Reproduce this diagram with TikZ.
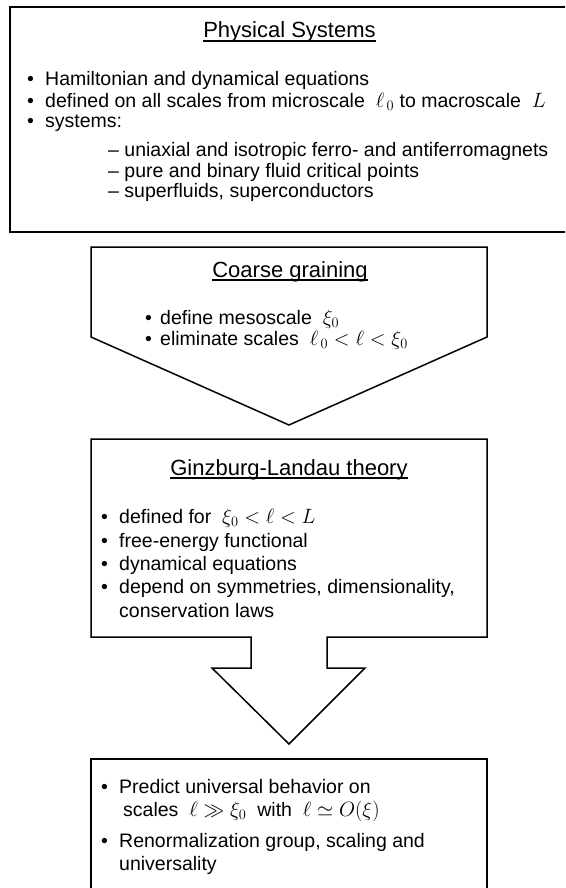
\documentclass[tikz,border=0pt]{standalone}
\usepackage[no-math]{fontspec}
\setmainfont{Liberation Sans}
\newcommand{\bul}[1][18pt]{\makebox[#1][l]{\textbullet}}
\newcommand{\mth}[1]{{\fontsize{22}{22}\selectfont$#1$}}
\tikzset{
  % outlines of the boxes and block arrows
  frame/.style={draw=black, line width=1.5pt, line join=miter},
  % box headings
  head/.style={anchor=base, inner sep=0pt, font=\fontsize{22}{26}\selectfont},
  % one line of body text
  txt/.style={anchor=base west, inner sep=0pt, font=\fontsize{19.5}{23}\selectfont},
  uline/.style={line width=1.2pt},
}
\begin{document}
\begin{tikzpicture}[x=1pt,y=-1pt]
    \useasboundingbox (0,0) rectangle (565,888);
    \clip (0,0) rectangle (565,888);

    % Physical systems
    \draw[frame, line width=2pt] (10,7) rectangle (580,232);
    \node[head] (phys) at (289.5,38) {Physical Systems};
    \draw[uline] ([yshift=-3pt]phys.base west) -- ([yshift=-3pt]phys.base east);
    \node[txt] (phys1) at (27,86) {\bul Hamiltonian and dynamical equations};
    \node[txt] (phys2) at (27,107) {\bul defined on all scales from microscale \ \mth{\ell_{\,0}} to macroscale \ \mth{L}};
    \node[txt] (phys3) at (27,128) {\bul systems:};
    \node[txt] (sys1) at (108,157) {-- uniaxial and isotropic ferro- and antiferromagnets};
    \node[txt] (sys2) at (108,177) {-- pure and binary fluid critical points};
    \node[txt] (sys3) at (108,197) {-- superfluids, superconductors};

    % Coarse graining
    \draw[frame] (91,247) -- (487,247) -- (487,337) -- (289,425) -- (91,337) -- cycle;
    \node[head] (coarse) at (290,277) {Coarse graining};
    \draw[uline] ([yshift=-3pt]coarse.base west) -- ([yshift=-3pt]coarse.base east);
    \node[txt] (coarse1) at (145,324) {\bul[15pt]define mesoscale \ \mth{\xi_0}};
    \node[txt] (coarse2) at (145,345) {\bul[15pt]eliminate scales \ \mth{\ell_{\,0}<\ell<\xi_0}};

    % Ginzburg-Landau theory, box and arrow in one outline
    \draw[frame] (91,439) -- (487,439) -- (487,637) -- (327,637) -- (327,668)
        -- (365,668) -- (289,744) -- (212,668) -- (251,668) -- (251,637)
        -- (91,637) -- cycle;
    \node[head] (gl) at (289,475) {Ginzburg-Landau theory};
    \draw[uline] ([yshift=-3pt]gl.base west) -- ([yshift=-3pt]gl.base east);
    \node[txt] (gl1) at (101,523) {\bul defined for \ \mth{\xi_0<\ell<L}};
    \node[txt] (gl2) at (101,547) {\bul free-energy functional};
    \node[txt] (gl3) at (101,570) {\bul dynamical equations};
    \node[txt] (gl4) at (101,593) {\bul depend on symmetries, dimensionality,};
    \node[txt] (gl5) at (119,617) {conservation laws};

    % Universal behavior
    \draw[frame] (91,759) rectangle (487,900);
    \node[txt] (rg1) at (101,793) {\bul Predict universal behavior on};
    \node[txt] (rg2) at (123,816) {scales \ \mth{\ell\gg\xi_0} \ with \ \mth{\ell\simeq O(\xi)}};
    \node[txt] (rg3) at (101,847) {\bul Renormalization group, scaling and};
    \node[txt] (rg4) at (119,870) {universality};
\end{tikzpicture}
\end{document}
